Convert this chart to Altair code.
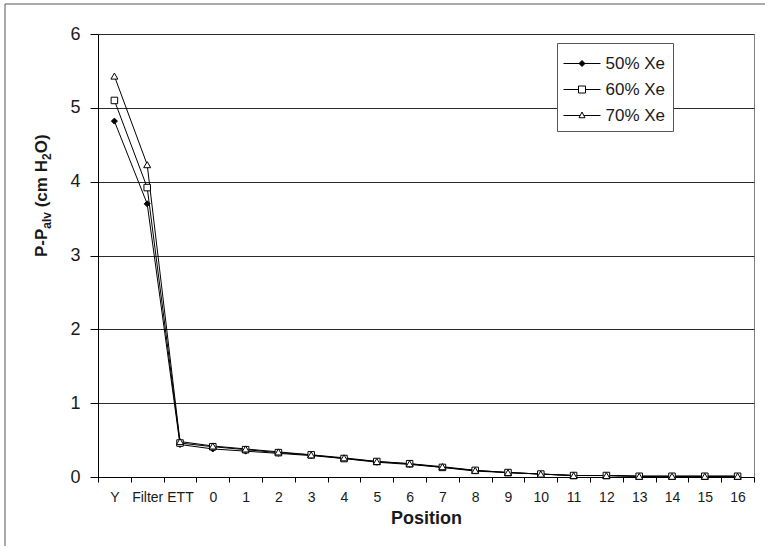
import altair as alt
import pandas as pd

# Measurement positions along the airway, in order
positions = ["Y", "Filter", "ETT"] + [str(i) for i in range(17)]
series = ["50% Xe", "60% Xe", "70% Xe"]

# Pressure relative to alveolar pressure (cm H2O) at each position
p50 = [4.82, 3.70, 0.44, 0.38, 0.35, 0.32, 0.29, 0.25, 0.20, 0.17, 0.13,
       0.08, 0.06, 0.04, 0.02, 0.02, 0.01, 0.01, 0.01, 0.01]
p60 = [5.10, 3.92, 0.46, 0.41, 0.37, 0.33, 0.30, 0.25, 0.21, 0.18, 0.13,
       0.09, 0.06, 0.04, 0.02, 0.02, 0.01, 0.01, 0.01, 0.01]
p70 = [5.43, 4.23, 0.48, 0.42, 0.38, 0.34, 0.30, 0.26, 0.21, 0.18, 0.14,
       0.09, 0.06, 0.04, 0.02, 0.02, 0.01, 0.01, 0.01, 0.01]

rows = []
for name, vals in zip(series, [p50, p60, p70]):
    for pos, v in zip(positions, vals):
        rows.append({"series": name, "position": pos, "value": v})
df = pd.DataFrame(rows)

FONT = "Liberation Sans"

# Legend glyphs: a short line through each marker
leg_diamond = "M-3.7,0H3.7M0,-0.6L0.6,0L0,0.6L-0.6,0Z"
leg_square = "M-3.7,0H-0.7M0.7,0H3.7M-0.7,-0.7H0.7V0.7H-0.7Z"
leg_triangle = "M-3.7,0H-0.35M0.35,0H3.7M0,-0.7L0.6,0.45H-0.6Z"

x_enc = alt.X(
    "position:N",
    sort=positions,
    scale=alt.Scale(paddingInner=0, paddingOuter=0),
    axis=alt.Axis(
        labelAngle=0, tickBand="extent", tickSize=5, labelPadding=8,
        labelFontSize=14, labelColor="#1a1a1a", labelFont=FONT,
        domainColor="black", tickColor="black", grid=False,
        title="Position", titleFont=FONT, titleFontSize=18,
        titleFontWeight="bold", titleColor="#1a1a1a", titlePadding=5,
    ),
)
y_enc = alt.Y(
    "value:Q",
    scale=alt.Scale(domain=[0, 6], nice=False, zero=True),
    axis=alt.Axis(
        values=[0, 1, 2, 3, 4, 5, 6], format="d", tickSize=8, labelPadding=10,
        labelFontSize=18, labelColor="#1a1a1a", labelFont=FONT,
        domainColor="black", tickColor="black", grid=True,
        gridColor="#2a2a2a", gridWidth=1, title=None,
    ),
)

base = alt.Chart(df)

lines = base.mark_line(color="black", strokeWidth=1).encode(
    x=x_enc, y=y_enc, detail="series:N"
)

points = base.mark_point(filled=True, stroke="black", strokeWidth=1, opacity=1).encode(
    x=x_enc,
    y=y_enc,
    shape=alt.Shape(
        "series:N",
        scale=alt.Scale(domain=series, range=["diamond", "square", "triangle-up"]),
        legend=None,
    ),
    fill=alt.Fill(
        "series:N",
        scale=alt.Scale(domain=series, range=["black", "white", "white"]),
        legend=None,
    ),
    size=alt.Size(
        "series:N",
        scale=alt.Scale(domain=series, range=[36, 49, 42]),
        legend=None,
    ),
)

# Legend layer: invisible marks whose scales carry the line-and-marker glyphs
legend_box = alt.Legend(
    title=" ", titleFontSize=2, titlePadding=3,
    orient="none", legendX=459, legendY=9,
    padding=7, strokeColor="#555555", fillColor="white",
    labelFont=FONT, labelFontSize=17, labelColor="#1a1a1a",
    symbolOffset=9.5, labelOffset=15, rowPadding=8,
    symbolSize=100, symbolStrokeWidth=1, symbolOpacity=1,
)
legend_layer = base.transform_calculate(entry="datum.series").mark_point(
    filled=True, strokeWidth=1, opacity=0
).encode(
    x=x_enc,
    y=y_enc,
    shape=alt.Shape(
        "entry:N",
        scale=alt.Scale(domain=series, range=[leg_diamond, leg_square, leg_triangle]),
        legend=legend_box,
    ),
    fill=alt.Fill(
        "entry:N",
        scale=alt.Scale(domain=series, range=["black", "white", "white"]),
        legend=legend_box,
    ),
    stroke=alt.Stroke(
        "entry:N",
        scale=alt.Scale(domain=series, range=["black", "black", "black"]),
        legend=legend_box,
    ),
)

one = alt.Data(values=[{}])

# Outer frame around the whole figure
frame = alt.Chart(one).mark_rect(fill=None, stroke="#555555", strokeWidth=1).encode(
    x=alt.value(-93), x2=alt.value(720), y=alt.value(-30), y2=alt.value(560)
)

# Rotated y-axis title with subscripts, built from pieces
def title_piece(text, y, size, x):
    return alt.Chart(one).mark_text(
        angle=270, align="left", baseline="alphabetic", font=FONT,
        fontWeight="bold", fontSize=size, color="#1a1a1a",
    ).encode(x=alt.value(x), y=alt.value(y), text=alt.value(text))

base_x = -51
sub_x = -47
title_layers = [
    title_piece("P-P", 223, 17, base_x),
    title_piece("alv", 194.7, 12, sub_x),
    title_piece("(cm H", 173.3, 17, base_x),
    title_piece("2", 126, 12, sub_x),
    title_piece("O)", 119.3, 17, base_x),
]

chart = alt.layer(frame, lines, points, legend_layer, *title_layers).resolve_scale(
    shape="independent", fill="independent", stroke="independent"
).properties(
    width=656,
    height=443,
    autosize=alt.AutoSizeParams(type="none"),
    padding={"left": 98, "top": 34, "right": 11, "bottom": 69},
    background="white",
).configure_view(stroke="#808080", strokeWidth=1)

chart.save("out.html", embed_options={"renderer": "svg", "actions": False})
